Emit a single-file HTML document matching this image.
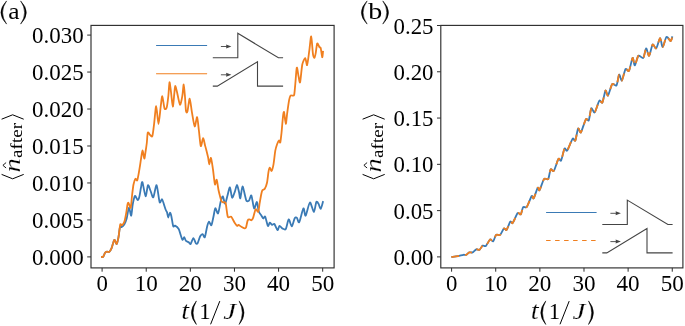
<!DOCTYPE html>
<html><head><meta charset="utf-8"><title>fig</title>
<style>html,body{margin:0;padding:0;background:#fff;}body{width:685px;height:326px;overflow:hidden;}svg{display:block;will-change:transform;}text{font-family:"Liberation Serif",serif;fill:#000;}</style></head><body>
<svg width="685" height="326" viewBox="0 0 685 326">
<rect width="685" height="326" fill="#fff"/>
<line x1="102.10" y1="267.9" x2="102.10" y2="271.7" stroke="#2e2e2e" stroke-width="1.0"/>
<text x="102.10" y="291.2" font-size="23.2" text-anchor="middle" textLength="11.4" lengthAdjust="spacingAndGlyphs">0</text>
<line x1="146.22" y1="267.9" x2="146.22" y2="271.7" stroke="#2e2e2e" stroke-width="1.0"/>
<text x="146.22" y="291.2" font-size="23.2" text-anchor="middle" textLength="23.1" lengthAdjust="spacingAndGlyphs">10</text>
<line x1="190.34" y1="267.9" x2="190.34" y2="271.7" stroke="#2e2e2e" stroke-width="1.0"/>
<text x="190.34" y="291.2" font-size="23.2" text-anchor="middle" textLength="23.1" lengthAdjust="spacingAndGlyphs">20</text>
<line x1="234.46" y1="267.9" x2="234.46" y2="271.7" stroke="#2e2e2e" stroke-width="1.0"/>
<text x="234.46" y="291.2" font-size="23.2" text-anchor="middle" textLength="23.1" lengthAdjust="spacingAndGlyphs">30</text>
<line x1="278.58" y1="267.9" x2="278.58" y2="271.7" stroke="#2e2e2e" stroke-width="1.0"/>
<text x="278.58" y="291.2" font-size="23.2" text-anchor="middle" textLength="23.1" lengthAdjust="spacingAndGlyphs">40</text>
<line x1="322.70" y1="267.9" x2="322.70" y2="271.7" stroke="#2e2e2e" stroke-width="1.0"/>
<text x="322.70" y="291.2" font-size="23.2" text-anchor="middle" textLength="23.1" lengthAdjust="spacingAndGlyphs">50</text>
<line x1="87.2" y1="256.90" x2="91.0" y2="256.90" stroke="#2e2e2e" stroke-width="1.0"/>
<text x="83.70" y="265.00" font-size="23.2" text-anchor="end" textLength="51.6" lengthAdjust="spacingAndGlyphs">0.000</text>
<line x1="87.2" y1="219.93" x2="91.0" y2="219.93" stroke="#2e2e2e" stroke-width="1.0"/>
<text x="83.70" y="228.03" font-size="23.2" text-anchor="end" textLength="51.6" lengthAdjust="spacingAndGlyphs">0.005</text>
<line x1="87.2" y1="182.96" x2="91.0" y2="182.96" stroke="#2e2e2e" stroke-width="1.0"/>
<text x="83.70" y="191.06" font-size="23.2" text-anchor="end" textLength="51.6" lengthAdjust="spacingAndGlyphs">0.010</text>
<line x1="87.2" y1="145.99" x2="91.0" y2="145.99" stroke="#2e2e2e" stroke-width="1.0"/>
<text x="83.70" y="154.09" font-size="23.2" text-anchor="end" textLength="51.6" lengthAdjust="spacingAndGlyphs">0.015</text>
<line x1="87.2" y1="109.02" x2="91.0" y2="109.02" stroke="#2e2e2e" stroke-width="1.0"/>
<text x="83.70" y="117.12" font-size="23.2" text-anchor="end" textLength="51.6" lengthAdjust="spacingAndGlyphs">0.020</text>
<line x1="87.2" y1="72.05" x2="91.0" y2="72.05" stroke="#2e2e2e" stroke-width="1.0"/>
<text x="83.70" y="80.15" font-size="23.2" text-anchor="end" textLength="51.6" lengthAdjust="spacingAndGlyphs">0.025</text>
<line x1="87.2" y1="35.08" x2="91.0" y2="35.08" stroke="#2e2e2e" stroke-width="1.0"/>
<text x="83.70" y="43.18" font-size="23.2" text-anchor="end" textLength="51.6" lengthAdjust="spacingAndGlyphs">0.030</text>
<rect x="91.0" y="25.4" width="243.10" height="242.50" fill="none" stroke="#2e2e2e" stroke-width="1.15"/>
<line x1="451.60" y1="267.9" x2="451.60" y2="271.7" stroke="#2e2e2e" stroke-width="1.0"/>
<text x="451.60" y="291.2" font-size="23.2" text-anchor="middle" textLength="11.4" lengthAdjust="spacingAndGlyphs">0</text>
<line x1="495.73" y1="267.9" x2="495.73" y2="271.7" stroke="#2e2e2e" stroke-width="1.0"/>
<text x="495.73" y="291.2" font-size="23.2" text-anchor="middle" textLength="23.1" lengthAdjust="spacingAndGlyphs">10</text>
<line x1="539.86" y1="267.9" x2="539.86" y2="271.7" stroke="#2e2e2e" stroke-width="1.0"/>
<text x="539.86" y="291.2" font-size="23.2" text-anchor="middle" textLength="23.1" lengthAdjust="spacingAndGlyphs">20</text>
<line x1="583.99" y1="267.9" x2="583.99" y2="271.7" stroke="#2e2e2e" stroke-width="1.0"/>
<text x="583.99" y="291.2" font-size="23.2" text-anchor="middle" textLength="23.1" lengthAdjust="spacingAndGlyphs">30</text>
<line x1="628.12" y1="267.9" x2="628.12" y2="271.7" stroke="#2e2e2e" stroke-width="1.0"/>
<text x="628.12" y="291.2" font-size="23.2" text-anchor="middle" textLength="23.1" lengthAdjust="spacingAndGlyphs">40</text>
<line x1="672.25" y1="267.9" x2="672.25" y2="271.7" stroke="#2e2e2e" stroke-width="1.0"/>
<text x="672.25" y="291.2" font-size="23.2" text-anchor="middle" textLength="23.1" lengthAdjust="spacingAndGlyphs">50</text>
<line x1="437.0" y1="256.90" x2="440.8" y2="256.90" stroke="#2e2e2e" stroke-width="1.0"/>
<text x="433.50" y="265.00" font-size="23.2" text-anchor="end" textLength="40.0" lengthAdjust="spacingAndGlyphs">0.00</text>
<line x1="437.0" y1="210.62" x2="440.8" y2="210.62" stroke="#2e2e2e" stroke-width="1.0"/>
<text x="433.50" y="218.72" font-size="23.2" text-anchor="end" textLength="40.0" lengthAdjust="spacingAndGlyphs">0.05</text>
<line x1="437.0" y1="164.34" x2="440.8" y2="164.34" stroke="#2e2e2e" stroke-width="1.0"/>
<text x="433.50" y="172.44" font-size="23.2" text-anchor="end" textLength="40.0" lengthAdjust="spacingAndGlyphs">0.10</text>
<line x1="437.0" y1="118.06" x2="440.8" y2="118.06" stroke="#2e2e2e" stroke-width="1.0"/>
<text x="433.50" y="126.16" font-size="23.2" text-anchor="end" textLength="40.0" lengthAdjust="spacingAndGlyphs">0.15</text>
<line x1="437.0" y1="71.78" x2="440.8" y2="71.78" stroke="#2e2e2e" stroke-width="1.0"/>
<text x="433.50" y="79.88" font-size="23.2" text-anchor="end" textLength="40.0" lengthAdjust="spacingAndGlyphs">0.20</text>
<line x1="437.0" y1="25.50" x2="440.8" y2="25.50" stroke="#2e2e2e" stroke-width="1.0"/>
<text x="433.50" y="33.60" font-size="23.2" text-anchor="end" textLength="40.0" lengthAdjust="spacingAndGlyphs">0.25</text>
<rect x="440.8" y="25.4" width="242.10" height="242.50" fill="none" stroke="#2e2e2e" stroke-width="1.15"/>
<path d="M102.00,257.00C102.17,256.96 102.90,257.25 103.30,256.70C103.70,256.15 104.62,253.45 105.10,252.80C105.58,252.15 106.45,251.82 107.00,251.70C107.55,251.58 108.70,252.36 109.30,251.90C109.90,251.44 110.95,249.76 111.60,248.20C112.25,246.64 113.64,240.45 114.30,239.90C114.96,239.35 116.15,244.35 116.70,244.00C117.25,243.65 118.07,239.41 118.50,237.20C118.93,234.99 119.58,228.31 120.00,227.00C120.42,225.69 121.13,227.45 121.70,227.10C122.27,226.75 123.76,225.38 124.40,224.30C125.04,223.22 126.00,220.95 126.60,218.80C127.20,216.66 128.40,208.20 129.00,207.80C129.60,207.40 130.72,216.13 131.20,215.70C131.68,215.27 132.22,207.06 132.70,204.50C133.18,201.94 134.24,196.56 134.90,196.00C135.56,195.44 137.22,200.13 137.80,200.20C138.39,200.26 138.98,198.15 139.40,196.50C139.82,194.85 140.61,189.36 141.00,187.50C141.39,185.64 141.80,181.07 142.40,182.20C143.00,183.33 144.87,195.81 145.60,196.20C146.33,196.59 147.38,185.94 148.00,185.20C148.62,184.46 149.71,188.93 150.40,190.50C151.09,192.07 152.49,197.99 153.30,197.30C154.11,196.61 155.78,184.56 156.60,185.20C157.42,185.84 158.90,200.38 159.60,202.20C160.30,204.02 161.43,198.89 162.00,199.20C162.57,199.51 163.51,203.20 164.00,204.60C164.49,206.00 165.40,208.99 165.80,210.00C166.20,211.01 166.79,211.43 167.10,212.40C167.41,213.38 167.84,217.46 168.20,217.50C168.56,217.54 169.50,212.89 169.90,212.70C170.30,212.50 170.87,214.25 171.30,216.00C171.73,217.75 172.72,224.95 173.20,226.20C173.68,227.45 174.28,225.25 175.00,225.60C175.72,225.95 177.98,227.76 178.70,228.90C179.41,230.04 180.02,232.97 180.50,234.40C180.98,235.83 181.92,239.54 182.40,239.90C182.88,240.26 183.73,237.07 184.20,237.20C184.67,237.33 185.40,240.24 186.00,240.90C186.60,241.56 188.20,241.90 188.80,242.30C189.40,242.70 190.00,244.55 190.60,244.00C191.20,243.45 192.72,238.19 193.40,238.10C194.08,238.01 195.25,242.62 195.80,243.30C196.35,243.98 197.03,244.21 197.60,243.30C198.17,242.39 199.55,237.50 200.20,236.30C200.85,235.10 202.00,233.98 202.60,234.10C203.20,234.22 204.20,238.23 204.80,237.20C205.40,236.17 206.65,228.23 207.20,226.20C207.75,224.17 208.45,221.73 209.00,221.60C209.55,221.47 210.80,225.93 211.40,225.20C212.00,224.47 213.09,218.21 213.60,216.00C214.11,213.79 214.72,208.54 215.30,208.20C215.89,207.86 217.40,214.27 218.10,213.40C218.80,212.53 220.08,203.71 220.70,201.50C221.32,199.29 222.33,196.10 222.90,196.40C223.47,196.70 224.50,203.92 225.10,203.80C225.70,203.68 226.88,197.63 227.50,195.50C228.12,193.37 229.30,187.11 229.90,187.40C230.50,187.69 231.46,197.13 232.10,197.70C232.74,198.27 234.16,193.45 234.80,191.80C235.44,190.15 236.45,184.97 237.00,185.00C237.55,185.03 238.57,190.27 239.00,192.00C239.43,193.73 239.84,199.02 240.30,198.30C240.76,197.59 241.90,186.93 242.50,186.50C243.10,186.07 244.39,193.15 244.90,195.00C245.41,196.85 245.87,199.96 246.40,200.70C246.93,201.44 248.35,201.38 249.00,200.70C249.65,200.02 250.74,194.50 251.40,195.50C252.06,196.50 253.38,207.56 254.10,208.40C254.81,209.25 256.30,201.64 256.90,202.00C257.50,202.36 258.10,209.42 258.70,211.20C259.30,212.98 260.90,214.75 261.50,215.70C262.10,216.65 262.82,218.37 263.30,218.50C263.78,218.63 264.60,215.74 265.20,216.70C265.80,217.66 267.30,225.12 267.90,225.90C268.50,226.68 269.24,222.83 269.80,222.70C270.36,222.57 271.60,224.73 272.20,224.90C272.80,225.07 273.71,223.32 274.40,224.00C275.09,224.68 276.84,229.85 277.50,230.10C278.16,230.35 278.84,226.09 279.50,225.90C280.16,225.71 281.78,228.20 282.60,228.60C283.42,229.00 285.01,230.20 285.80,229.00C286.59,227.80 287.92,219.74 288.70,219.40C289.48,219.06 291.03,226.52 291.80,226.40C292.57,226.28 293.95,219.64 294.60,218.50C295.25,217.36 296.20,217.12 296.80,217.60C297.40,218.08 298.34,223.40 299.20,222.20C300.06,221.00 302.57,209.25 303.40,208.40C304.23,207.56 304.75,216.47 305.60,215.70C306.45,214.93 308.82,202.97 309.90,202.50C310.98,202.03 313.07,212.16 313.90,212.10C314.73,212.03 315.70,203.08 316.30,202.00C316.90,200.92 317.93,202.92 318.50,203.80C319.07,204.68 320.13,209.03 320.70,208.80C321.27,208.57 322.61,202.88 322.90,202.00" fill="none" stroke="#3a7ab5" stroke-width="1.8" stroke-linejoin="round" stroke-linecap="square"/>
<path d="M102.00,257.00C102.17,256.96 102.90,257.25 103.30,256.70C103.70,256.15 104.62,253.45 105.10,252.80C105.58,252.15 106.45,251.82 107.00,251.70C107.55,251.58 108.70,252.36 109.30,251.90C109.90,251.44 110.95,249.76 111.60,248.20C112.25,246.64 113.64,240.45 114.30,239.90C114.96,239.35 116.15,244.35 116.70,244.00C117.25,243.65 118.05,239.71 118.50,237.20C118.95,234.69 119.75,226.26 120.20,224.70C120.66,223.14 121.45,225.60 122.00,225.20C122.55,224.80 123.84,223.25 124.40,221.60C124.96,219.95 125.90,214.72 126.30,212.50C126.70,210.28 127.21,205.76 127.50,204.50C127.79,203.24 128.08,202.37 128.50,202.80C128.92,203.23 130.24,208.68 130.70,207.80C131.16,206.92 131.64,199.03 132.00,196.00C132.36,192.97 133.06,186.74 133.50,184.50C133.94,182.26 134.92,179.33 135.40,178.80C135.88,178.27 136.72,181.39 137.20,180.40C137.68,179.41 138.61,173.96 139.10,171.20C139.59,168.44 140.56,161.89 141.00,159.20C141.44,156.51 142.07,150.59 142.50,150.50C142.93,150.41 143.91,158.31 144.30,158.50C144.69,158.69 145.18,154.01 145.50,152.00C145.82,149.99 146.50,145.51 146.80,143.00C147.10,140.49 147.36,133.73 147.80,132.70C148.24,131.67 149.60,134.67 150.20,135.10C150.80,135.53 151.88,137.56 152.40,136.00C152.92,134.44 153.71,126.97 154.20,123.10C154.69,119.23 155.64,106.08 156.20,106.20C156.76,106.32 157.91,123.95 158.50,124.00C159.09,124.05 160.21,110.20 160.70,106.60C161.19,103.00 161.81,96.07 162.30,96.30C162.79,96.53 163.93,106.94 164.50,108.40C165.07,109.86 166.19,109.18 166.70,107.50C167.21,105.82 168.04,98.78 168.40,95.50C168.76,92.22 169.16,82.75 169.50,82.30C169.84,81.84 170.57,88.84 171.00,92.00C171.43,95.16 172.37,106.38 172.80,106.60C173.23,106.82 173.99,96.38 174.30,93.70C174.61,91.02 174.85,86.22 175.20,86.00C175.55,85.78 176.38,89.57 177.00,92.00C177.62,94.43 179.30,104.25 180.00,104.70C180.70,105.16 181.92,98.13 182.40,95.50C182.88,92.87 183.36,84.31 183.70,84.50C184.04,84.69 184.70,93.53 185.00,97.00C185.30,100.47 185.68,109.35 186.00,111.20C186.32,113.05 187.02,112.83 187.50,111.20C187.98,109.58 189.13,98.58 189.70,98.70C190.27,98.82 191.25,108.50 191.90,112.10C192.55,115.70 194.02,125.74 194.70,126.40C195.38,127.06 196.55,116.67 197.10,117.20C197.65,117.73 198.42,126.74 198.90,130.50C199.38,134.26 200.25,145.10 200.80,146.10C201.35,147.10 202.55,138.32 203.10,138.20C203.65,138.08 204.58,143.67 205.00,145.20C205.42,146.73 205.90,148.41 206.30,150.00C206.70,151.59 207.71,155.54 208.10,157.40C208.49,159.26 208.92,164.24 209.30,164.30C209.68,164.37 210.52,157.22 211.00,157.90C211.48,158.58 212.49,166.07 213.00,169.50C213.51,172.93 214.42,182.96 214.90,184.30C215.38,185.64 216.22,178.99 216.70,179.80C217.18,180.61 218.11,188.13 218.60,190.50C219.09,192.87 220.14,196.63 220.50,198.00C220.86,199.37 221.05,200.41 221.40,201.00C221.75,201.59 222.65,202.25 223.20,202.50C223.75,202.75 225.00,201.05 225.60,202.90C226.20,204.75 227.07,214.91 227.80,216.70C228.53,218.49 230.29,215.87 231.20,216.70C232.11,217.53 234.02,221.90 234.80,223.10C235.58,224.30 236.72,225.67 237.20,225.90C237.68,226.13 237.97,224.78 238.50,224.90C239.03,225.02 240.51,226.36 241.30,226.80C242.09,227.24 243.99,228.21 244.60,228.30C245.21,228.39 245.60,228.54 246.00,227.50C246.40,226.46 247.24,221.35 247.70,220.30C248.16,219.25 249.02,219.40 249.50,219.40C249.98,219.40 250.92,220.53 251.40,220.30C251.88,220.07 252.65,219.03 253.20,217.60C253.75,216.17 254.95,210.07 255.60,209.30C256.25,208.53 257.67,212.53 258.20,211.70C258.73,210.87 259.30,205.20 259.70,202.90C260.10,200.60 260.95,195.65 261.30,194.00C261.65,192.35 261.94,190.89 262.40,190.20C262.85,189.51 264.20,189.66 264.80,188.70C265.40,187.74 266.52,185.00 267.00,182.80C267.48,180.60 268.14,173.76 268.50,171.80C268.86,169.84 269.40,167.82 269.80,167.70C270.20,167.58 271.12,171.33 271.60,170.90C272.08,170.47 273.02,167.04 273.50,164.40C273.98,161.76 274.83,153.23 275.30,150.60C275.77,147.97 276.62,145.51 277.10,144.20C277.58,142.89 278.58,140.73 279.00,140.50C279.42,140.27 279.98,143.38 280.30,142.40C280.62,141.43 281.24,135.39 281.50,133.00C281.76,130.61 282.08,126.35 282.30,124.00C282.52,121.65 282.97,116.43 283.20,114.90C283.43,113.37 283.76,111.04 284.10,112.20C284.44,113.36 285.40,123.68 285.80,123.80C286.20,123.92 286.77,116.17 287.20,113.10C287.63,110.03 288.66,102.48 289.10,100.20C289.54,97.92 290.17,96.20 290.60,95.60C291.03,95.00 291.93,95.72 292.40,95.60C292.87,95.48 293.82,96.21 294.20,94.70C294.58,93.19 294.96,87.51 295.30,84.00C295.64,80.49 296.38,68.74 296.80,67.70C297.22,66.66 298.07,74.10 298.50,76.00C298.93,77.90 299.61,83.80 300.10,82.30C300.59,80.80 301.62,67.65 302.30,64.50C302.98,61.35 304.68,58.02 305.30,58.10C305.92,58.18 306.58,66.06 307.10,65.10C307.62,64.14 308.77,54.43 309.30,50.70C309.83,46.97 310.72,35.92 311.20,36.40C311.68,36.88 312.57,51.63 313.00,54.40C313.43,57.17 314.14,57.93 314.50,57.70C314.86,57.47 315.45,54.46 315.80,52.60C316.15,50.74 316.73,44.12 317.20,43.40C317.67,42.68 318.94,46.50 319.40,47.10C319.85,47.70 320.34,46.69 320.70,48.00C321.06,49.31 321.90,56.72 322.20,57.20C322.50,57.68 322.90,52.42 323.00,51.70" fill="none" stroke="#f07f1f" stroke-width="1.8" stroke-linejoin="round" stroke-linecap="square"/>
<path d="M451.40,257.00C452.25,256.88 456.34,256.39 457.90,256.10C459.46,255.81 462.32,254.97 463.40,254.80C464.48,254.63 465.43,255.11 466.20,254.80C466.97,254.49 468.47,252.71 469.30,252.40C470.13,252.09 471.69,252.80 472.60,252.40C473.51,252.00 475.39,249.65 476.30,249.30C477.21,248.95 478.77,250.18 479.60,249.70C480.43,249.22 481.89,246.08 482.70,245.60C483.51,245.12 484.84,246.79 485.80,246.00C486.76,245.21 489.14,240.10 490.10,239.50C491.06,238.90 492.42,242.00 493.20,241.40C493.98,240.80 495.19,235.75 496.10,234.90C497.01,234.06 499.19,235.73 500.20,234.90C501.21,234.07 503.07,229.16 503.90,228.50C504.73,227.84 505.77,230.68 506.60,229.80C507.43,228.92 509.51,222.58 510.30,221.70C511.09,220.82 511.75,224.10 512.70,223.00C513.65,221.90 516.55,214.33 517.60,213.20C518.65,212.07 520.07,215.11 520.80,214.30C521.53,213.49 522.42,207.95 523.20,207.00C523.98,206.05 525.71,208.42 526.80,207.00C527.89,205.58 530.70,197.23 531.60,196.10C532.50,194.97 532.91,199.39 533.70,198.30C534.49,197.21 536.95,188.77 537.70,187.70C538.45,186.63 538.67,191.23 539.50,190.10C540.33,188.97 542.97,180.44 544.10,179.00C545.23,177.56 547.36,180.24 548.20,179.00C549.05,177.76 549.86,170.58 550.60,169.50C551.34,168.42 552.87,172.09 553.90,170.70C554.93,169.31 557.56,160.11 558.50,158.80C559.44,157.49 560.32,161.93 561.10,160.60C561.88,159.27 563.71,149.91 564.50,148.60C565.29,147.29 566.15,151.79 567.20,150.50C568.25,149.21 571.55,139.99 572.60,138.70C573.65,137.41 574.58,141.91 575.30,140.60C576.01,139.29 577.37,129.68 578.10,128.60C578.83,127.52 579.90,133.50 580.90,132.30C581.90,131.10 584.77,120.96 585.80,119.40C586.83,117.84 588.08,121.73 588.80,120.30C589.51,118.87 590.53,109.43 591.30,108.40C592.07,107.37 593.66,113.40 594.70,112.40C595.74,111.40 598.30,101.99 599.30,100.70C600.30,99.41 601.59,103.81 602.40,102.50C603.21,101.19 604.77,91.51 605.50,90.60C606.23,89.69 607.13,96.34 608.00,95.50C608.87,94.66 611.10,85.41 612.20,84.10C613.31,82.79 615.60,86.62 616.50,85.40C617.40,84.18 618.40,75.34 619.10,74.70C619.80,74.06 621.07,81.23 621.90,80.50C622.73,79.77 624.58,70.36 625.50,69.10C626.42,67.84 628.08,72.26 629.00,70.80C629.92,69.34 631.85,58.60 632.60,57.90C633.35,57.20 634.05,65.67 634.80,65.40C635.55,65.13 637.29,56.77 638.40,55.80C639.50,54.82 642.30,58.88 643.30,57.90C644.30,56.92 645.35,48.57 646.10,48.30C646.85,48.03 648.25,56.28 649.10,55.80C649.95,55.32 651.68,45.58 652.60,44.60C653.52,43.62 655.23,49.13 656.20,48.30C657.18,47.47 659.25,38.34 660.10,38.20C660.95,38.06 661.87,47.37 662.70,47.20C663.53,47.03 665.47,37.68 666.50,36.90C667.53,36.12 669.83,41.27 670.60,41.20C671.37,41.14 672.17,37.02 672.40,36.40" fill="none" stroke="#3a7ab5" stroke-width="1.8" stroke-linejoin="round"/>
<path d="M451.40,257.00C452.25,256.88 456.34,256.39 457.90,256.10C459.46,255.81 462.32,254.97 463.40,254.80C464.48,254.63 465.43,255.11 466.20,254.80C466.97,254.49 468.47,252.71 469.30,252.40C470.13,252.09 471.69,252.80 472.60,252.40C473.51,252.00 475.39,249.65 476.30,249.30C477.21,248.95 478.77,250.18 479.60,249.70C480.43,249.22 481.89,246.08 482.70,245.60C483.51,245.12 484.84,246.79 485.80,246.00C486.76,245.21 489.14,240.10 490.10,239.50C491.06,238.90 492.42,242.00 493.20,241.40C493.98,240.80 495.19,235.75 496.10,234.90C497.01,234.06 499.19,235.73 500.20,234.90C501.21,234.07 503.07,229.16 503.90,228.50C504.73,227.84 505.77,230.68 506.60,229.80C507.43,228.92 509.51,222.58 510.30,221.70C511.09,220.82 511.75,224.10 512.70,223.00C513.65,221.90 516.55,214.33 517.60,213.20C518.65,212.07 520.07,215.11 520.80,214.30C521.53,213.49 522.42,207.95 523.20,207.00C523.98,206.05 525.71,208.42 526.80,207.00C527.89,205.58 530.70,197.23 531.60,196.10C532.50,194.97 532.91,199.39 533.70,198.30C534.49,197.21 536.95,188.77 537.70,187.70C538.45,186.63 538.67,191.23 539.50,190.10C540.33,188.97 542.97,180.44 544.10,179.00C545.23,177.56 547.36,180.24 548.20,179.00C549.05,177.76 549.86,170.58 550.60,169.50C551.34,168.42 552.87,172.09 553.90,170.70C554.93,169.31 557.56,160.11 558.50,158.80C559.44,157.49 560.32,161.93 561.10,160.60C561.88,159.27 563.71,149.91 564.50,148.60C565.29,147.29 566.15,151.79 567.20,150.50C568.25,149.21 571.55,139.99 572.60,138.70C573.65,137.41 574.58,141.91 575.30,140.60C576.01,139.29 577.37,129.68 578.10,128.60C578.83,127.52 579.90,133.50 580.90,132.30C581.90,131.10 584.77,120.96 585.80,119.40C586.83,117.84 588.08,121.73 588.80,120.30C589.51,118.87 590.53,109.43 591.30,108.40C592.07,107.37 593.66,113.40 594.70,112.40C595.74,111.40 598.30,101.99 599.30,100.70C600.30,99.41 601.59,103.81 602.40,102.50C603.21,101.19 604.77,91.51 605.50,90.60C606.23,89.69 607.13,96.34 608.00,95.50C608.87,94.66 611.10,85.41 612.20,84.10C613.31,82.79 615.60,86.62 616.50,85.40C617.40,84.18 618.40,75.34 619.10,74.70C619.80,74.06 621.07,81.23 621.90,80.50C622.73,79.77 624.58,70.36 625.50,69.10C626.42,67.84 628.08,72.26 629.00,70.80C629.92,69.34 631.85,58.60 632.60,57.90C633.35,57.20 634.05,65.67 634.80,65.40C635.55,65.13 637.29,56.77 638.40,55.80C639.50,54.82 642.30,58.88 643.30,57.90C644.30,56.92 645.35,48.57 646.10,48.30C646.85,48.03 648.25,56.28 649.10,55.80C649.95,55.32 651.68,45.58 652.60,44.60C653.52,43.62 655.23,49.13 656.20,48.30C657.18,47.47 659.25,38.34 660.10,38.20C660.95,38.06 661.87,47.37 662.70,47.20C663.53,47.03 665.47,37.68 666.50,36.90C667.53,36.12 669.83,41.27 670.60,41.20C671.37,41.14 672.17,37.02 672.40,36.40" fill="none" stroke="#f07f1f" stroke-width="1.8" stroke-linejoin="round" stroke-dasharray="7.9 5.75"/>
<line x1="156.1" y1="45.5" x2="207.1" y2="45.5" stroke="#3a7ab5" stroke-width="1.15"/>
<line x1="156.1" y1="73.7" x2="207.1" y2="73.7" stroke="#f07f1f" stroke-width="1.15"/>
<polyline points="212.8,57.7 237.8,57.7 237.8,33.300000000000004 278.4,57.7 283.1,57.7" fill="none" stroke="#444" stroke-width="1.1" stroke-linejoin="miter"/>
<polyline points="212.8,86.1 217.3,86.1 257.5,61.8 257.5,86.1 283.1,86.1" fill="none" stroke="#444" stroke-width="1.1" stroke-linejoin="miter"/>
<line x1="220.90" y1="46.50" x2="228.40" y2="46.50" stroke="#444" stroke-width="0.9"/>
<path d="M231.40,46.50 L226.10,44.50 L226.40,46.50 L226.10,48.50 Z" fill="#444"/>
<line x1="220.90" y1="74.80" x2="228.40" y2="74.80" stroke="#444" stroke-width="0.9"/>
<path d="M231.40,74.80 L226.10,72.80 L226.40,74.80 L226.10,76.80 Z" fill="#444"/>
<line x1="546.1" y1="212.5" x2="596.6" y2="212.5" stroke="#3a7ab5" stroke-width="1.15"/>
<line x1="546.1" y1="240.5" x2="596.6" y2="240.5" stroke="#f07f1f" stroke-width="1.15" stroke-dasharray="4.5 4.5"/>
<polyline points="602.3,224.5 627.3,224.5 627.3,200.1 667.9,224.5 672.5999999999999,224.5" fill="none" stroke="#444" stroke-width="1.1" stroke-linejoin="miter"/>
<polyline points="602.3,252.9 606.8,252.9 647.0,228.6 647.0,252.9 672.5999999999999,252.9" fill="none" stroke="#444" stroke-width="1.1" stroke-linejoin="miter"/>
<line x1="610.40" y1="213.30" x2="617.90" y2="213.30" stroke="#444" stroke-width="0.9"/>
<path d="M620.90,213.30 L615.60,211.30 L615.90,213.30 L615.60,215.30 Z" fill="#444"/>
<line x1="610.40" y1="241.60" x2="617.90" y2="241.60" stroke="#444" stroke-width="0.9"/>
<path d="M620.90,241.60 L615.60,239.60 L615.90,241.60 L615.60,243.60 Z" fill="#444"/>
<path d="M6.60,0.90 Q-4.80,12.50 6.60,24.10 Q-1.40,12.50 6.60,0.90 Z" fill="#000" stroke="#000" stroke-width="0.5" stroke-linejoin="round"/>
<text x="8.30" y="18.80" font-size="23.0" textLength="11.3" lengthAdjust="spacingAndGlyphs">a</text>
<path d="M20.60,0.90 Q32.00,12.50 20.60,24.10 Q28.60,12.50 20.60,0.90 Z" fill="#000" stroke="#000" stroke-width="0.5" stroke-linejoin="round"/>
<path d="M367.10,0.90 Q355.70,12.50 367.10,24.10 Q359.10,12.50 367.10,0.90 Z" fill="#000" stroke="#000" stroke-width="0.5" stroke-linejoin="round"/>
<text x="368.30" y="18.80" font-size="23.0" textLength="14.0" lengthAdjust="spacingAndGlyphs">b</text>
<path d="M382.80,0.90 Q394.20,12.50 382.80,24.10 Q390.80,12.50 382.80,0.90 Z" fill="#000" stroke="#000" stroke-width="0.5" stroke-linejoin="round"/>
<text x="181.30" y="319.00" font-size="26" font-style="italic" textLength="7.9" lengthAdjust="spacingAndGlyphs" stroke="#fff" stroke-width="0.2" paint-order="fill stroke">t</text>
<path d="M196.40,300.90 Q186.40,312.70 196.40,324.50 Q189.80,312.70 196.40,300.90 Z" fill="#000" stroke="#000" stroke-width="0.5" stroke-linejoin="round"/>
<text x="199.30" y="319.00" font-size="22.8" textLength="11.4" lengthAdjust="spacingAndGlyphs">1</text>
<line x1="210.60" y1="324.3" x2="219.80" y2="301.1" stroke="#000" stroke-width="1.0"/>
<text x="223.20" y="319.00" font-size="23.6" font-style="italic" textLength="12.9" lengthAdjust="spacingAndGlyphs" stroke="#fff" stroke-width="0.2" paint-order="fill stroke">J</text>
<path d="M239.10,300.90 Q248.90,312.70 239.10,324.50 Q245.50,312.70 239.10,300.90 Z" fill="#000" stroke="#000" stroke-width="0.5" stroke-linejoin="round"/>
<text x="530.70" y="319.00" font-size="26" font-style="italic" textLength="7.9" lengthAdjust="spacingAndGlyphs" stroke="#fff" stroke-width="0.2" paint-order="fill stroke">t</text>
<path d="M545.80,300.90 Q535.80,312.70 545.80,324.50 Q539.20,312.70 545.80,300.90 Z" fill="#000" stroke="#000" stroke-width="0.5" stroke-linejoin="round"/>
<text x="548.70" y="319.00" font-size="22.8" textLength="11.4" lengthAdjust="spacingAndGlyphs">1</text>
<line x1="560.00" y1="324.3" x2="569.20" y2="301.1" stroke="#000" stroke-width="1.0"/>
<text x="572.60" y="319.00" font-size="23.6" font-style="italic" textLength="12.9" lengthAdjust="spacingAndGlyphs" stroke="#fff" stroke-width="0.2" paint-order="fill stroke">J</text>
<path d="M588.50,300.90 Q598.30,312.70 588.50,324.50 Q594.90,312.70 588.50,300.90 Z" fill="#000" stroke="#000" stroke-width="0.5" stroke-linejoin="round"/>
<g transform="translate(19.8,179.4) rotate(-90)">
<polyline points="5.0,-18.2 0.6,-7.15 5.0,3.9" fill="none" stroke="#000" stroke-width="1.0"/>
<text x="6.80" y="0.00" font-size="24" font-style="italic" textLength="14.3" lengthAdjust="spacingAndGlyphs" stroke="#fff" stroke-width="0.2" paint-order="fill stroke">n</text>
<polyline points="11.4,-13.7 14.1,-16.9 16.8,-13.7" fill="none" stroke="#000" stroke-width="0.9"/>
<text x="21.50" y="2.30" font-size="16.5" textLength="35.0" lengthAdjust="spacingAndGlyphs">after</text>
<polyline points="60.2,-18.2 64.6,-7.15 60.2,3.9" fill="none" stroke="#000" stroke-width="1.0"/>
</g>
<g transform="translate(380.8,179.4) rotate(-90)">
<polyline points="5.0,-18.2 0.6,-7.15 5.0,3.9" fill="none" stroke="#000" stroke-width="1.0"/>
<text x="6.80" y="0.00" font-size="24" font-style="italic" textLength="14.3" lengthAdjust="spacingAndGlyphs" stroke="#fff" stroke-width="0.2" paint-order="fill stroke">n</text>
<polyline points="11.4,-13.7 14.1,-16.9 16.8,-13.7" fill="none" stroke="#000" stroke-width="0.9"/>
<text x="21.50" y="2.30" font-size="16.5" textLength="35.0" lengthAdjust="spacingAndGlyphs">after</text>
<polyline points="60.2,-18.2 64.6,-7.15 60.2,3.9" fill="none" stroke="#000" stroke-width="1.0"/>
</g>
</svg></body></html>
